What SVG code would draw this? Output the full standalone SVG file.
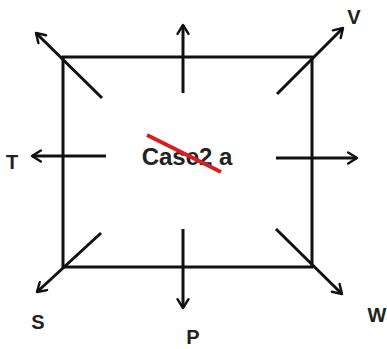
<svg xmlns="http://www.w3.org/2000/svg" width="387" height="349" viewBox="0 0 387 349">
<defs>
<marker id="ah" viewBox="0 0 12 12" refX="10" refY="6" markerWidth="4.4" markerHeight="4.4" orient="auto" markerUnits="strokeWidth">
<path d="M2,1 L10,6 L2,11" fill="none" stroke="#111" stroke-width="2.2" stroke-linecap="round" stroke-linejoin="round"/>
</marker>
<style>
.ln{stroke:#111;stroke-width:3;fill:none}
.ar{stroke:#111;stroke-width:3;fill:none;marker-end:url(#ah)}
.lb{font-family:"Liberation Sans",Arial,sans-serif;font-weight:bold;font-size:20px;fill:#222}
.ct{font-family:"Liberation Sans",Arial,sans-serif;font-weight:bold;font-size:24px;fill:#222}
</style>
</defs>
<rect width="387" height="349" fill="#fff"/>
<g id="box"><rect class="ln" x="63" y="57" width="249" height="210"/></g>
<g id="center"><text class="ct" x="187" y="165" text-anchor="middle">Case2 a</text>
<line x1="147" y1="135" x2="221" y2="172" stroke="#d42020" stroke-width="4"/></g>
<g id="connectors">
<line class="ar" x1="102" y1="98" x2="36" y2="33"/>
<line class="ar" x1="183" y1="93" x2="183" y2="25"/>
<line class="ar" x1="277" y1="94" x2="343" y2="28"/>
<line class="ar" x1="106" y1="156" x2="32" y2="156"/>
<line class="ar" x1="276" y1="158" x2="357" y2="158"/>
<line class="ar" x1="101" y1="233" x2="37" y2="292"/>
<line class="ar" x1="183" y1="229" x2="183" y2="308"/>
<line class="ar" x1="276" y1="229" x2="342" y2="294"/>
</g>
<g id="labels">
<text class="lb" x="354" y="24" text-anchor="middle">V</text>
<text class="lb" x="12" y="169" text-anchor="middle">T</text>
<text class="lb" x="38" y="329" text-anchor="middle">S</text>
<text class="lb" x="193" y="344" text-anchor="middle">P</text>
<text class="lb" x="377" y="322" text-anchor="middle">W</text>
</g>
</svg>
